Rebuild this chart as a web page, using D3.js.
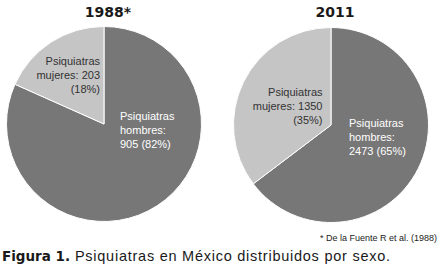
<!doctype html>
<html lang="es">
<head>
<meta charset="utf-8">
<title>Figura 1</title>
<script src="https://cdnjs.cloudflare.com/ajax/libs/d3/7.8.5/d3.min.js"></script>
<style>
  body { margin: 0; background: #fff; }
  text { font-family: "Liberation Sans", Arial, sans-serif; }
</style>
</head>
<body>
<svg width="442" height="275" id="svg"></svg>
<script>
// data
var years = ['1988*', '2011'];
var categories = ['hombres', 'mujeres'];
var counts1988 = [905, 203];
var counts2011 = [2473, 1350];
var pcts1988 = ['82%', '18%'];
var pcts2011 = ['65%', '35%'];

var svg = d3.select('#svg');
var color = d3.scaleOrdinal().domain(categories).range(['#777777', '#c5c5c5']);

function hombresLines(n, p) { return ['Psiquiatras', 'hombres:', n + ' (' + p + ')']; }
function mujeresLines(n, p) { return ['Psiquiatras', 'mujeres: ' + n, '(' + p + ')']; }

// label baselines are for the first line
var pies = [
  {title: years[0], counts: counts1988, pcts: pcts1988, cx: 104, cy: 124, r: 97.5,
   labels: {
     hombres: {x: 120, y: 120, anchor: 'start', lines: hombresLines},
     mujeres: {x: 100, y: 65, anchor: 'end', lines: mujeresLines}
   }},
  {title: years[1], counts: counts2011, pcts: pcts2011, cx: 331, cy: 125, r: 97.5,
   labels: {
     hombres: {x: 349, y: 126.5, anchor: 'start', lines: hombresLines},
     mujeres: {x: 322.5, y: 95.5, anchor: 'end', lines: mujeresLines}
   }}
];

var pie = d3.pie().sort(null).value(function(d) { return d.value; });

pies.forEach(function(p) {
  var data = categories.map(function(c, i) { return {key: c, value: p.counts[i], pct: p.pcts[i]}; });
  var arc = d3.arc().innerRadius(0).outerRadius(p.r);
  var g = svg.append('g').attr('transform', 'translate(' + p.cx + ',' + p.cy + ')');

  g.selectAll('path')
    .data(pie(data))
    .enter()
    .append('path')
    .attr('d', arc)
    .attr('fill', function(d) { return color(d.data.key); })
    .attr('stroke', '#fff')
    .attr('stroke-width', 1);

  svg.append('text')
    .attr('x', p.cx + 4)
    .attr('y', 17)
    .attr('text-anchor', 'middle')
    .style('font-family', '"DejaVu Sans", sans-serif')
    .style('font-weight', 'bold')
    .style('font-size', '14px')
    .attr('fill', '#1a1a1a')
    .text(p.title);

  data.forEach(function(d) {
    var lb = p.labels[d.key];
    var t = svg.append('text')
      .attr('text-anchor', lb.anchor)
      .attr('fill', d.key === 'hombres' ? '#fff' : '#333')
      .style('font-size', '11px');
    t.selectAll('tspan')
      .data(lb.lines(d.value, d.pct))
      .enter()
      .append('tspan')
      .attr('x', lb.x)
      .attr('y', function(s, i) { return lb.y + i * 14; })
      .text(function(s) { return s; });
  });
});

svg.append('text')
  .attr('x', 437)
  .attr('y', 241)
  .attr('text-anchor', 'end')
  .attr('fill', '#222')
  .style('font-size', '9px')
  .text('* De la Fuente R et al. (1988)');

var cap = svg.append('text')
  .attr('x', 2)
  .attr('y', 261)
  .attr('fill', '#1a1a1a')
  .style('font-size', '14.5px')
  .style('letter-spacing', '0.75px');
cap.append('tspan')
  .style('font-family', '"DejaVu Sans", sans-serif')
  .style('font-weight', 'bold')
  .style('font-size', '13.5px')
  .style('letter-spacing', '0px')
  .text('Figura 1.');
cap.append('tspan').text(' Psiquiatras en México distribuidos por sexo.');
</script>
</body>
</html>
